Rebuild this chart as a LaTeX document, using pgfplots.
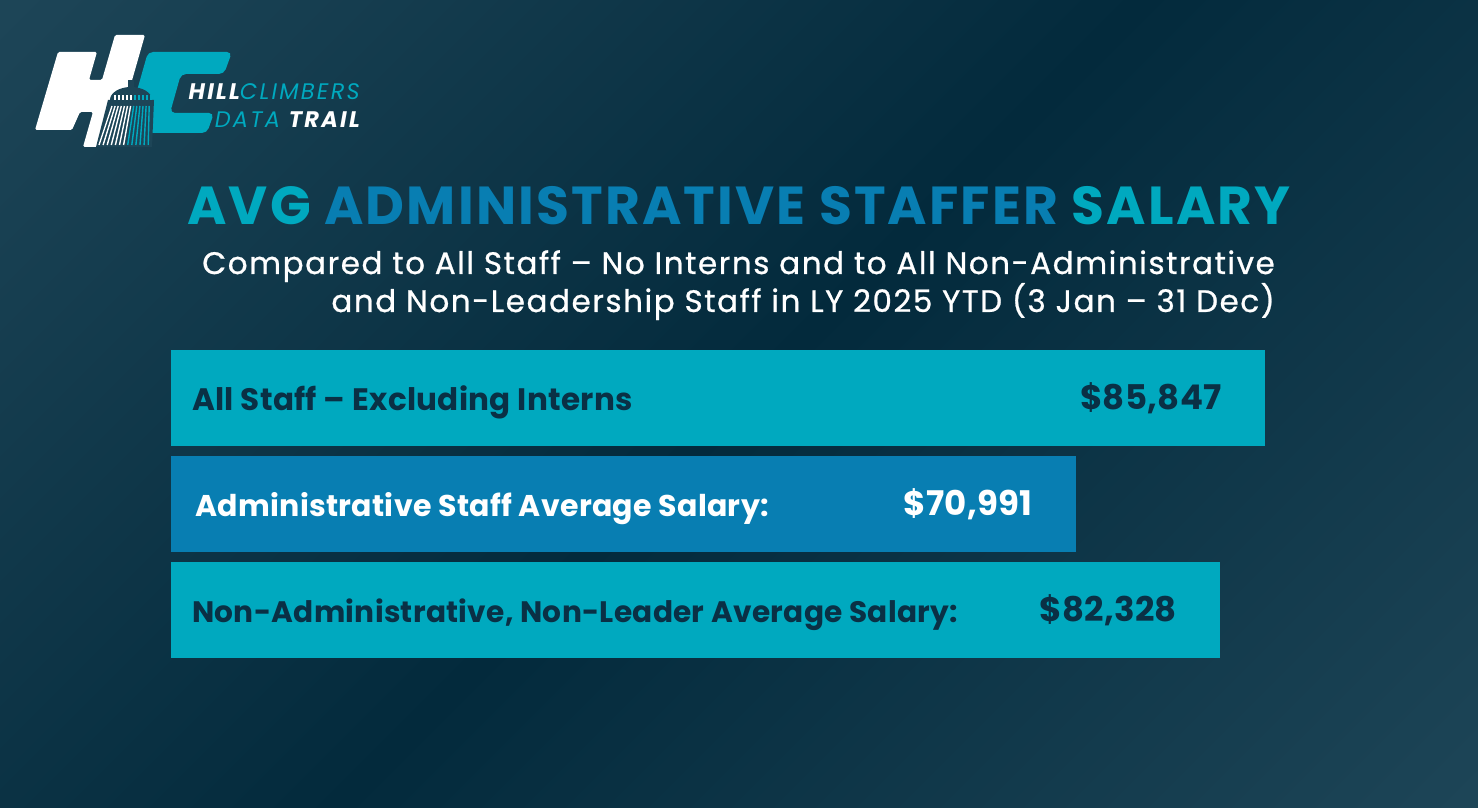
\documentclass[border=0pt]{standalone}
\usepackage{fontspec}
\usepackage{pgfplots}
\pgfplotsset{compat=1.18}
\setmainfont{Poppins}
\newfontfamily\titlefont{Poppins}[LetterSpace=4]
\newfontfamily\subfont{Poppins}[LetterSpace=5, FakeBold=0.8]
\newfontfamily\logofont{Poppins}[LetterSpace=10]
\newfontfamily\labfont{Poppins}[LetterSpace=1]
\definecolor{bglight}{HTML}{1D4557}
\definecolor{bgdark}{HTML}{032A3C}
\definecolor{cyanbar}{HTML}{00A9BF}
\definecolor{bluebar}{HTML}{087EB2}
\definecolor{darktext}{HTML}{0A3045}
\pgfdeclarehorizontalshading{bgshade}{100bp}{color(0bp)=(bglight); color(15bp)=(bglight); color(50bp)=(bgdark); color(85bp)=(bglight); color(100bp)=(bglight)}
\begin{document}
\begin{tikzpicture}[x=1pt,y=1pt]
\shade[shading=bgshade, shading angle=-45] (0,0) rectangle (1478,808);
% ---- logo (image coordinates, y downwards) ----
\begin{scope}[shift={(0,808)}, yscale=-1]
\fill[white, rounded corners=1.5pt] (58,52) -- (97,52) -- (89,80) -- (102,80) -- (115,35) -- (145,35) -- (113,147) -- (83,147) -- (93,112) -- (80,112) -- (72,130) -- (35,130) -- cycle;
\fill[cyanbar, rounded corners=5pt] (148,52) -- (232,52) -- (224,74) -- (181,74) -- (170,113) -- (214,113) -- (207,133) -- (125,133) -- cycle;
\fill[bglight] (96,147) -- (108,100) -- (110,100) arc[start angle=180,end angle=360,x radius=21,y radius=13] -- (154,100) -- (152,147) -- cycle;
\fill[bglight] (128,80) rectangle (134,88);
\foreach \i in {0,...,12}{
  \pgfmathsetmacro{\xb}{99+4.1*\i}
  \pgfmathsetmacro{\xt}{112+3.1*\i}
  \ifnum\i<7
    \draw[white, line width=1.4pt] (\xb,145) -- (\xt,106);
  \else
    \draw[cyanbar, line width=1.4pt] (\xb,145) -- (\xt,106);
  \fi
}
\foreach \i in {0,...,9}{
  \pgfmathsetmacro{\xd}{114+4*\i}
  \ifnum\i<5
    \fill[white] (\xd,95) rectangle ++(1.5,5);
  \else
    \fill[cyanbar] (\xd,95) rectangle ++(1.5,5);
  \fi
}
\end{scope}
\node[anchor=base east, inner sep=0] at (360,708) {\fontsize{22.5}{26}\selectfont\logofont\itshape{\bfseries\color{white}HILL}{\color{cyanbar}CLIMBERS}};
\node[anchor=base east, inner sep=0] at (360,680) {\fontsize{22.5}{26}\selectfont\logofont\itshape{\color{cyanbar}DATA }{\bfseries\color{white}TRAIL}};
% ---- titles ----
\node[anchor=base, inner sep=0] at (739,583) {\fontsize{53.5}{60}\selectfont\titlefont\bfseries{\color{cyanbar}AVG }{\color{bluebar}ADMINISTRATIVE STAFFER }{\color{cyanbar}SALARY}};
\node[anchor=base east, inner sep=0, text=white] at (1275,534) {\fontsize{31}{36}\selectfont\subfont Compared to All Staff – No Interns and to All Non-Administrative};
\node[anchor=base east, inner sep=0, text=white] at (1275,496) {\fontsize{31}{36}\selectfont\subfont and Non-Leadership Staff in LY 2025 YTD (3 Jan – 31 Dec)};
% ---- chart ----
\begin{scope}[shift={(171pt,145pt)}]
\begin{axis}[
  scale only axis, width=1094pt, height=318pt,
  xbar, bar width=96pt, bar shift=0pt,
  xmin=0, xmax=85847, ymin=-0.5, ymax=2.5,
  hide axis, clip=false,
  point meta=x,
  nodes near coords={\$\pgfmathprintnumber{\pgfplotspointmeta}},
  every node near coord/.append style={anchor=base east, xshift=-43pt, yshift=-12pt, inner sep=0pt, font=\fontsize{34}{38}\selectfont\labfont\bfseries},
  /pgf/number format/.cd, fixed, precision=0, 1000 sep={,}, assume math mode=true,
]
\addplot[fill=cyanbar, draw=none, every node near coord/.append style={text=darktext}] coordinates {(85847,2)};
\addplot[fill=bluebar, draw=none, every node near coord/.append style={text=white}] coordinates {(70991,1)};
\addplot[fill=cyanbar, draw=none, every node near coord/.append style={text=darktext}] coordinates {(82328,0)};
\node[anchor=base west, inner sep=0, text=darktext, font=\fontsize{31}{36}\selectfont\labfont\bfseries, xshift=21pt, yshift=-13pt] at (axis cs:0,2) {All Staff – Excluding Interns};
\node[anchor=base west, inner sep=0, text=white, font=\fontsize{30}{36}\selectfont\labfont\bfseries, xshift=24pt, yshift=-13pt] at (axis cs:0,1) {Administrative Staff Average Salary:};
\node[anchor=base west, inner sep=0, text=darktext, font=\fontsize{29.6}{36}\selectfont\labfont\bfseries, xshift=21pt, yshift=-13pt] at (axis cs:0,0) {Non-Administrative, Non-Leader Average Salary:};
\end{axis}
\end{scope}
\end{tikzpicture}
\end{document}
